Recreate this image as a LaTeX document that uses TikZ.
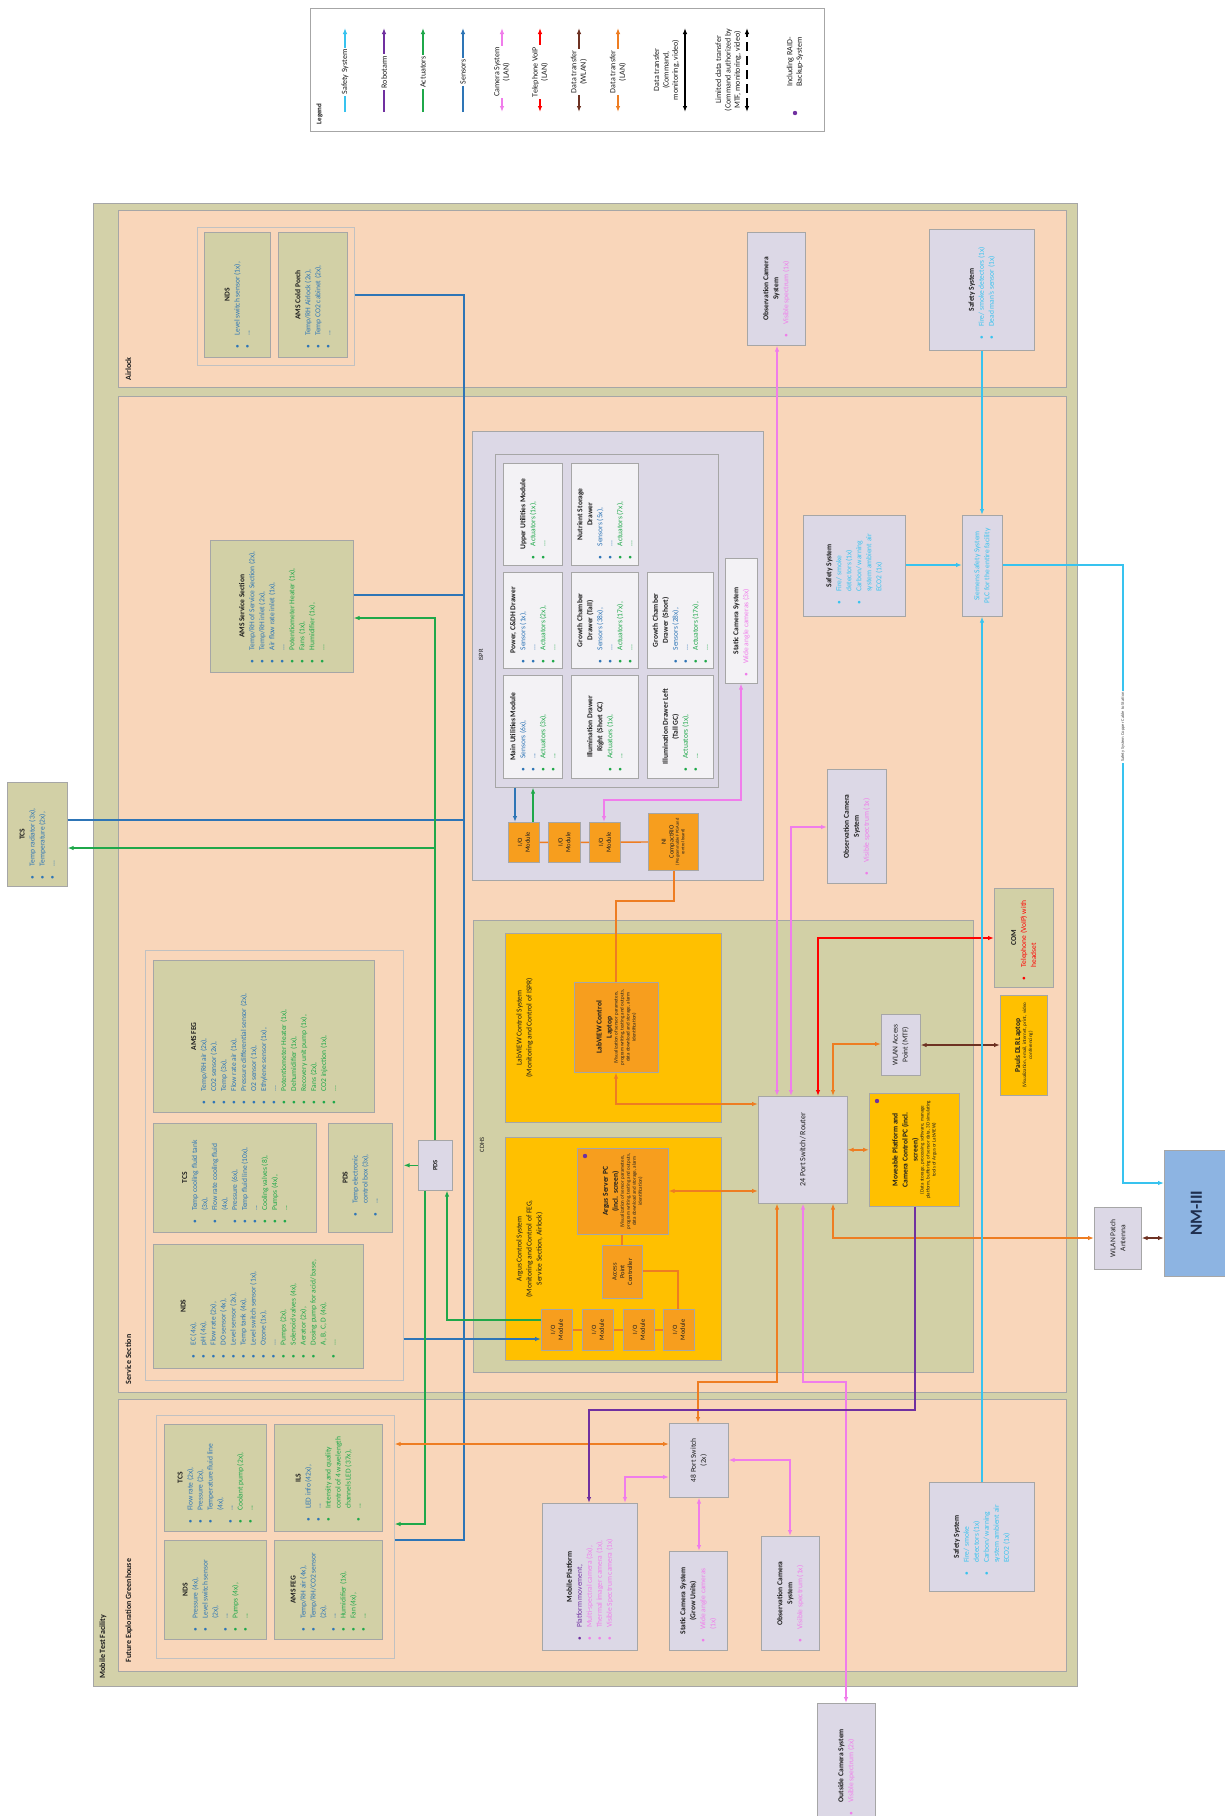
\documentclass[tikz,border=0pt]{standalone}
\usepackage{fontspec}
\setmainfont{Carlito}
\usetikzlibrary{arrows.meta}
\definecolor{cfac}{HTML}{D3D1A9}
\definecolor{cpch}{HTML}{F9D6BA}
\definecolor{colv}{HTML}{D2D0A6}
\definecolor{clav}{HTML}{DCD8E6}
\definecolor{cwht}{HTML}{F3F2F5}
\definecolor{cyel}{HTML}{FFC000}
\definecolor{corg}{HTML}{F79E1E}
\definecolor{cgry}{HTML}{A6A6A6}
\definecolor{ctxt}{HTML}{1E1E1E}
\definecolor{sblue}{HTML}{2E75B6}
\definecolor{agrn}{HTML}{1FA84A}
\definecolor{cpink}{HTML}{F07DEB}
\definecolor{ccyan}{HTML}{38C3EF}
\definecolor{crob}{HTML}{7030A0}
\definecolor{cred}{HTML}{FF0000}
\definecolor{cbrn}{HTML}{6E3223}
\definecolor{clan}{HTML}{EE7D22}
\definecolor{cnm}{HTML}{8DB4E2}
\definecolor{cnavy}{HTML}{1F2F4F}
\newcommand{\rbx}[2]{\rotatebox{90}{\parbox{#1pt}{\raggedright #2}}}
\newcommand{\bxt}[1]{{\centering\bfseries #1\par}}
\newcommand{\itb}[2]{{\color{#1}\hangindent=13pt\hangafter=1\noindent\makebox[13pt][l]{\textbullet}#2\par}}
\newcommand{\sml}[1]{{\fontsize{5}{6}\selectfont\centering #1\par}}

\begin{document}
\begin{tikzpicture}[x=1pt,y=-1pt,>={Latex[length=6pt,width=4.5pt]},
  every node/.style={font=\fontsize{7.5}{10}\selectfont,text=ctxt},
  ln/.style={line width=1.4pt},
  sens/.style={ln,draw=sblue}, act/.style={ln,draw=agrn}, cam/.style={ln,draw=cpink},
  lan/.style={ln,draw=clan}, tel/.style={ln,draw=cred}, wlan/.style={ln,draw=cbrn},
  rob/.style={ln,draw=crob}, saf/.style={ln,draw=ccyan},
  box/.style={draw=cgry,line width=0.6pt,inner sep=0pt,anchor=north west},
  olv/.style={box,fill=colv}, lav/.style={box,fill=clav}, wht/.style={box,fill=cwht},
  ylw/.style={box,fill=cyel}, org/.style={box,fill=corg}, sec/.style={box,fill=cpch},
  grp/.style={box,draw=cgry!70,fill=cpch},
  small/.style={font=\fontsize{6.5}{7.8}\selectfont},
  lbl/.style={rotate=90,anchor=north west,font=\bfseries\fontsize{8}{9.6}\selectfont},
  lgl/.style={rotate=90,fill=white,inner sep=1.5pt,align=center,font=\fontsize{8}{9.4}\selectfont}]
\useasboundingbox (0,0) rectangle (1225,1816);

\node[box,fill=white,minimum width=514,minimum height=123] (legend) at (310,8) {};
\node[lbl,font=\bfseries\fontsize{7}{8}\selectfont] (leg-t) at (313,128) {Legend};
\draw[saf,->] (345,112) -- (345,28); \node[lgl] (leg-saf) at (345,72) {Safety System};
\draw[rob,->] (384,112) -- (384,28); \node[lgl] (leg-rob) at (384,72) {Robotarm};
\draw[act,->] (423,112) -- (423,28); \node[lgl] (leg-act) at (423,72) {Actuators};
\draw[sens,->] (463,112) -- (463,28); \node[lgl] (leg-sens) at (463,72) {Sensors};
\draw[cam,<->] (502,112) -- (502,28); \node[lgl] (leg-cam) at (502,72) {Camera System\\(LAN)};
\draw[tel,<->] (540,112) -- (540,28); \node[lgl] (leg-tel) at (540,72) {Telephone VoIP\\(LAN)};
\draw[wlan,<->] (579,112) -- (579,28); \node[lgl] (leg-wlan) at (579,72) {Data transfer\\(WLAN)};
\draw[lan,<->] (618,112) -- (618,28); \node[lgl] (leg-lan) at (618,72) {Data transfer\\(LAN)};
\draw[ln,<->] (685,112) -- (685,28);
\node[lgl,fill=none,anchor=south] (leg-dt) at (681,70) {Data transfer\\(Command,\\monitoring, video)};
\draw[ln,<->,dash pattern=on 9pt off 5pt] (747,112) -- (747,28);
\node[lgl,fill=none,anchor=south] (leg-ldt) at (743,70) {Limited data transfer\\(Command authorized by\\MTF, monitoring, video)};
\fill[crob] (795,113) circle (2.2);
\node[lgl,fill=none] (leg-raid) at (795,62) {Including RAID-\\Backup-System};

\node[box,fill=cfac,minimum width=984,minimum height=1483] (mtf) at (93,203) {};
\node[sec,minimum width=948,minimum height=177] (airlock) at (118,210) {};
\node[sec,minimum width=948,minimum height=996] (svc) at (118,396) {};
\node[sec,minimum width=948,minimum height=272] (feg) at (118,1399) {};
\node[lbl] (mtf-t) at (96,1682) {Mobile Test Facility};
\node[lbl] (airlock-t) at (122,384) {Airlock};
\node[lbl] (svc-t) at (122,1388) {Service Section};
\node[lbl] (feg-t) at (122,1666) {Future Exploration Greenhouse};

\node[grp,minimum width=157,minimum height=138] (algrp) at (197,227) {};
\node[olv,minimum width=66,minimum height=125] (nds-al) at (204,232) {\rbx{108}{\bxt{NDS}\itb{sblue}{Level switch sensor (1x),}\itb{sblue}{...}}};
\node[olv,minimum width=69,minimum height=125] (cp-al) at (278,232) {\rbx{108}{\bxt{AMS Cold Porch}\itb{sblue}{Temp/RH Airlock (2x),}\itb{sblue}{Temp CO2 cabinet (2x),}\itb{sblue}{...}}};
\node[lav,minimum width=58,minimum height=113] (obs-al) at (747,232) {\rbx{98}{\bxt{Observation Camera\\System}\itb{cpink}{Visible spectrum (1x)}}};
\node[lav,minimum width=105,minimum height=121] (saf-al) at (929,229) {\rbx{100}{\bxt{Safety System}\itb{ccyan}{Fire/ smoke detectors (1x)}\itb{ccyan}{Dead man's sensor (1x)}}};

\node[olv,minimum width=143,minimum height=132] (ams-ss) at (210,540) {\rbx{114}{\bxt{AMS Service Section}\itb{sblue}{Temp/RH of Service Section (2x),}\itb{sblue}{Temp/RH inlet (2x),}\itb{sblue}{Air flow rate inlet (1x),}\itb{sblue}{...}\itb{agrn}{Potentiometer Heater (1x),}\itb{agrn}{Fans (1x),}\itb{agrn}{Humidifier (1x),}\itb{agrn}{...}}};
\node[olv,minimum width=60,minimum height=104] (tcs-out) at (7,782) {\rbx{90}{\bxt{TCS}\itb{sblue}{Temp radiator (3x),}\itb{sblue}{Temperature (2x),}\itb{sblue}{...}}};

\node[lav,minimum width=291,minimum height=449] (ispr) at (472,431) {};
\node[small,rotate=90] (ispr-t) at (481,655) {ISPR};
\node[lav,minimum width=223,minimum height=333] (rack) at (495,454) {};
\node[wht,minimum width=59,minimum height=102] (uum) at (503,463) {\rbx{90}{\bxt{Upper Utilities Module}\itb{agrn}{Actuators (1x),}\itb{agrn}{...}}};
\node[wht,minimum width=59,minimum height=96] (pcd) at (503,572) {\rbx{86}{\bxt{Power, C\&DH Drawer}\itb{sblue}{Sensors (1x),}\itb{sblue}{...}\itb{agrn}{Actuators (2x),}\itb{agrn}{...}}};
\node[wht,minimum width=59,minimum height=103] (mum) at (503,675) {\rbx{90}{\bxt{Main Utilities Module}\itb{sblue}{Sensors (6x),}\itb{sblue}{...}\itb{agrn}{Actuators (3x),}\itb{agrn}{...}}};
\node[wht,minimum width=67,minimum height=102] (nsd) at (571,463) {\rbx{90}{\bxt{Nutrient Storage\\Drawer}\itb{sblue}{Sensors (5x),}\itb{sblue}{...}\itb{agrn}{Actuators (7x),}\itb{agrn}{...}}};
\node[wht,minimum width=67,minimum height=96] (gct) at (571,572) {\rbx{86}{\bxt{Growth Chamber\\Drawer (Tall)}\itb{sblue}{Sensors (38x),}\itb{sblue}{...}\itb{agrn}{Actuators (17x),}\itb{agrn}{...}}};
\node[wht,minimum width=67,minimum height=103] (idr) at (571,675) {\rbx{90}{\bxt{Illumination Drawer\\Right (Short GC)}\itb{agrn}{Actuators (1x),}\itb{agrn}{...}}};
\node[wht,minimum width=66,minimum height=96] (gcs) at (647,572) {\rbx{86}{\bxt{Growth Chamber\\Drawer (Short)}\itb{sblue}{Sensors (28x),}\itb{sblue}{...}\itb{agrn}{Actuators (17x),}\itb{agrn}{...}}};
\node[wht,minimum width=66,minimum height=103] (idl) at (647,675) {\rbx{90}{\bxt{Illumination Drawer Left\\(Tall GC)}\itb{agrn}{Actuators (1x),}\itb{agrn}{...}}};
\node[wht,minimum width=32,minimum height=125] (scam) at (725,558) {\rbx{112}{\bxt{Static Camera System}\itb{cpink}{Wide angle cameras (3x)}}};
\node[org,small,minimum width=31,minimum height=40] (io1) at (508,822) {\rbx{36}{\centering I/O\\Module}};
\node[org,small,minimum width=32,minimum height=40] (io2) at (548,822) {\rbx{36}{\centering I/O\\Module}};
\node[org,small,minimum width=31,minimum height=40] (io3) at (589,822) {\rbx{36}{\centering I/O\\Module}};
\node[org,small,minimum width=50,minimum height=57] (crio) at (648,813) {\rbx{52}{\centering NI\\CompactRIO\par{\fontsize{4.5}{5.4}\selectfont (Programmable FPGA and control board)\par}}};

\node[lav,minimum width=59,minimum height=114] (obs-ss) at (827,769) {\rbx{98}{\bxt{Observation Camera\\System}\itb{cpink}{Visible spectrum (1x)}}};
\node[lav,minimum width=102,minimum height=101] (saf-ss) at (803,515) {\rbx{78}{\bxt{Safety System}\itb{ccyan}{Fire/ smoke detectors (1x)}\itb{ccyan}{Carbon/ warning system ambient air ECO2 (1x)}}};
\node[lav,minimum width=40,minimum height=101] (plc) at (962,515) {\rbx{92}{\centering\color{ccyan}Siemens Safety System\\PLC for the entire facility}};

\node[box,fill=colv,minimum width=500,minimum height=452] (cdhs) at (473,920) {};
\node[small,rotate=90] (cdhs-t) at (482,1145) {CDHS};
\node[ylw,minimum width=216,minimum height=189] (lvsys) at (505,933) {};
\node[rotate=90,anchor=north,align=center] (lvsys-t) at ([xshift=8]lvsys.west) {LabVIEW Control System\\(Monitoring and Control of ISPR)};
\node[org,minimum width=84,minimum height=90] (lvlap) at (574,982) {\rbx{80}{\bxt{LabVIEW Control\\Laptop}\sml{(Visualization of sensor parameters, program writing, testing and outputs, data download and storage, alarm identification)}}};
\node[ylw,minimum width=216,minimum height=223] (arsys) at (505,1137) {};
\node[rotate=90,anchor=north,align=center] (arsys-t) at ([xshift=8]arsys.west) {Argus Control System\\(Monitoring and Control of FEG,\\Service Section, Airlock)};
\node[org,minimum width=91,minimum height=86] (arpc) at (577,1148) {\rbx{76}{\bxt{Argus Server PC\\(incl. screen)}\sml{(Visualization of sensor parameters, program writing, testing and outputs, data download and storage, alarm identification)}}};
\fill[crob] (585,1156) circle (2.2);
\node[org,small,minimum width=40,minimum height=53] (apc) at (602,1245) {\rbx{46}{\centering Access\\Point\\Controller}};
\node[org,small,minimum width=31,minimum height=41] (ioa) at (541,1309) {\rbx{36}{\centering I/O\\Module}};
\node[org,small,minimum width=31,minimum height=41] (iob) at (582,1309) {\rbx{36}{\centering I/O\\Module}};
\node[org,small,minimum width=31,minimum height=41] (ioc) at (623,1309) {\rbx{36}{\centering I/O\\Module}};
\node[org,small,minimum width=31,minimum height=41] (iod) at (663,1309) {\rbx{36}{\centering I/O\\Module}};
\node[lav,minimum width=89,minimum height=107] (sw24) at (758,1096) {\rbx{95}{\centering\fontsize{8}{9.6}\selectfont 24 Port Switch/ Router}};
\node[lav,minimum width=39,minimum height=61] (wap) at (881,1014) {\rbx{55}{\centering WLAN Access\\Point (MTF)}};
\node[ylw,minimum width=90,minimum height=113] (mppc) at (869,1093) {\rbx{100}{\bxt{Moveable Platform and\\Camera Control PC (incl.\\screen)}\sml{(Data storage, processing software, manage platform, buffering of sensor data, 3D simulating tools of Argus or LabVIEW)}}};
\fill[crob] (877,1101) circle (2.2);
\node[olv,minimum width=59,minimum height=99] (com) at (994,888) {\rbx{85}{\bxt{COM}\itb{cred}{Telephone (VoIP) with headset}}};
\node[ylw,minimum width=47,minimum height=100] (dlr) at (1000,995) {\rbx{92}{\bxt{Pauls DLR Laptop}\sml{(Visualization, email, internet, print, video conferencing)}}};

\node[grp,minimum width=258,minimum height=430] (svcgrp) at (145,950) {};
\node[olv,minimum width=221,minimum height=152] (amsfeg-ss) at (153,960) {\rbx{136}{\bxt{AMS FEG}\itb{sblue}{Temp/RH air (2x),}\itb{sblue}{CO2 sensor (2x),}\itb{sblue}{Temp (3x),}\itb{sblue}{Flow rate air (1x),}\itb{sblue}{Pressure differential sensor (2x),}\itb{sblue}{O2 sensor (1x),}\itb{sblue}{Ethylene sensor (1x),}\itb{sblue}{...}\itb{agrn}{Potentiometer Heater (1x),}\itb{agrn}{Dehumidifier (1x),}\itb{agrn}{Recovery unit pump (1x),}\itb{agrn}{Fans (2x),}\itb{agrn}{CO2 injection (1x),}\itb{agrn}{...}}};
\node[olv,minimum width=163,minimum height=109] (tcs-ss) at (153,1123) {\rbx{92}{\bxt{TCS}\itb{sblue}{Temp cooling fluid tank (3x),}\itb{sblue}{Flow rate cooling fluid (4x),}\itb{sblue}{Pressure (6x),}\itb{sblue}{Temp fluid line (10x),}\itb{sblue}{...}\itb{agrn}{Cooling valves (8),}\itb{agrn}{Pumps (4x),}\itb{agrn}{...}}};
\node[olv,minimum width=64,minimum height=109] (pds-ss) at (328,1123) {\rbx{78}{\bxt{PDS}\itb{sblue}{Temp electronic control box (3x),}\itb{sblue}{...}}};
\node[olv,minimum width=210,minimum height=124] (nds-ss) at (153,1244) {\rbx{104}{\bxt{NDS}\itb{sblue}{EC (4x),}\itb{sblue}{pH (4x),}\itb{sblue}{Flow rate (2x),}\itb{sblue}{DO sensor (4x),}\itb{sblue}{Level sensor (2x),}\itb{sblue}{Temp tank (4x),}\itb{sblue}{Level switch sensor (1x),}\itb{sblue}{Ozone (1x),}\itb{sblue}{...}\itb{agrn}{Pumps (2x),}\itb{agrn}{Solenoid valves (4x),}\itb{agrn}{Aerator (2x),}\itb{agrn}{Dosing pump for acid/ base, A, B, C, D (4x),}\itb{agrn}{...}}};
\node[lav,small,minimum width=34,minimum height=50] (pds) at (418,1140) {\rbx{40}{\centering\bfseries PDS}};

\node[lav,minimum width=47,minimum height=62] (wpa) at (1094,1207) {\rbx{55}{\centering WLAN Patch\\Antenna}};
\node[box,fill=cnm,minimum width=64,minimum height=126] (nm) at (1164,1150) {\rbx{110}{\centering\fontsize{17}{20}\selectfont\bfseries\color{cnavy}NM-III}};
\node[lav,minimum width=58,minimum height=125] (ocam) at (817,1703) {\rbx{100}{\bxt{Outside Camera System}\itb{cpink}{Visible spectrum (2x)}}};

\node[grp,minimum width=238,minimum height=243] (feggrp) at (156,1415) {};
\node[olv,minimum width=102,minimum height=107] (tcs-feg) at (164,1424) {\rbx{92}{\bxt{TCS}\itb{sblue}{Flow rate (2x),}\itb{sblue}{Pressure (2x),}\itb{sblue}{Temperature fluid line (4x),}\itb{sblue}{...}\itb{agrn}{Coolant pump (2x),}\itb{agrn}{...}}};
\node[olv,minimum width=108,minimum height=107] (ils) at (274,1424) {\rbx{88}{\bxt{ILS}\itb{sblue}{LED info (42x),}\itb{sblue}{...}\itb{agrn}{Intensity and quality control of 4 wavelength channels LED (37x),}\itb{agrn}{...}}};
\node[olv,minimum width=102,minimum height=99] (nds-feg) at (164,1540) {\rbx{84}{\bxt{NDS}\itb{sblue}{Pressure (4x),}\itb{sblue}{Level switch sensor (2x),}\itb{sblue}{...}\itb{agrn}{Pumps (4x),}\itb{agrn}{...}}};
\node[olv,minimum width=108,minimum height=99] (ams-feg) at (274,1540) {\rbx{84}{\bxt{AMS FEG}\itb{sblue}{Temp/RH air (4x),}\itb{sblue}{Temp/RH/CO2 sensor (2x),}\itb{sblue}{...}\itb{agrn}{Humidifier (1x),}\itb{agrn}{Fan (4x),}\itb{agrn}{...}}};
\node[lav,minimum width=95,minimum height=147] (mp) at (542,1503) {\rbx{128}{\bxt{Mobile Platform}\itb{crob}{Platform movement,}\itb{cpink}{Multi-spectral camera (3x),}\itb{cpink}{Thermal imager camera (1x),}\itb{cpink}{Visible Spectrum camera (1x)}}};
\node[lav,minimum width=59,minimum height=74] (sw48) at (669,1423) {\rbx{64}{\centering 48 Port Switch\\(2x)}};
\node[lav,minimum width=58,minimum height=99] (scam-feg) at (669,1551) {\rbx{84}{\bxt{Static Camera System\\(Grow Units)}\itb{cpink}{Wide angle cameras (1x)}}};
\node[lav,minimum width=58,minimum height=114] (obs-feg) at (761,1536) {\rbx{98}{\bxt{Observation Camera\\System}\itb{cpink}{Visible spectrum (1x)}}};
\node[lav,minimum width=105,minimum height=109] (saf-feg) at (929,1482) {\rbx{78}{\bxt{Safety System}\itb{ccyan}{Fire/ smoke detectors (1x)}\itb{ccyan}{Carbon/ warning system ambient air ECO2 (1x)}}};

\draw[sens] (algrp.east |- 0,295) -| (464,1540) -- (feggrp.east |- 0,1540);
\draw[sens] (ams-ss.east |- 0,595) -- (464,595);
\draw[sens] (tcs-out.east |- 0,820) -- (464,820);
\draw[sens,->] (svcgrp.east |- 0,1339) -- (ioa.west |- 0,1339);
\draw[sens,->] (rack.south -| 515,0) -- (io1.north -| 515,0);

\draw[act,->] (ioa.west |- 0,1320) -| (pds.south -| 447,0);
\draw[act,->] (pds.north -| 435,0) |- (ams-ss.east |- 0,618);
\draw[act,->] (435,848) -- (tcs-out.east |- 0,848);
\draw[act,->] (pds.west) -- (svcgrp.east |- pds.west);
\draw[act,->] (pds.south -| 425,0) |- (feggrp.east |- 0,1524);
\draw[act,->] (io1.north -| 533,0) -- (rack.south -| 533,0);

\draw[cam,<->] (obs-al.south -| 777,0) -- (sw24.north -| 777,0);
\draw[cam,<->] (obs-ss.west |- 0,827) -| (sw24.north -| 791,0);
\draw[cam,<->] (scam.south -| 741,0) |- (604,800) -- (io3.north -| 604,0);
\draw[cam,<->] (sw24.south -| 803,0) |- (846,1382) -- (ocam.north -| 846,0);
\draw[cam,<->] (sw48.south -| 699,0) -- (scam-feg.north -| 699,0);
\draw[cam,<->] (sw48.east |- 0,1460) -| (obs-feg.north -| 790,0);
\draw[cam,<->] (mp.north -| 625,0) |- (sw48.west |- 0,1477);

\draw[lan] (io1) -- (io2) -- (io3) -- (crio);
\draw[lan] (crio.south -| 674,0) |- (616,901) -- (lvlap.north -| 616,0);
\draw[lan,<->] (lvlap.south -| 616,0) |- (sw24.west |- 0,1104);
\draw[lan,<->] (arpc.east |- 0,1191) -- (sw24.west |- 0,1191);
\draw[lan] (arpc.south -| 622,0) -- (apc.north -| 622,0);
\draw[lan] (apc.east |- 0,1271) -| (iod.north -| 678,0);
\draw[lan] (ioa) -- (iob) -- (ioc) -- (iod);
\draw[lan,<->] (sw24.north -| 833,0) |- (wap.west |- 0,1044);
\draw[lan,<->] (sw24.east) -- (mppc.west);
\draw[lan,<->] (sw24.south -| 833,0) |- (wpa.west |- 0,1238);
\draw[lan,<->] (sw24.south -| 777,0) |- (698,1382) -- (sw48.north -| 698,0);
\draw[lan,<->] (sw48.west |- 0,1444) -- (feggrp.east |- 0,1444);

\draw[tel,<->] (sw24.north -| 818,0) |- (com.west |- 0,938);
\draw[wlan,<->] (wap.east |- 0,1045) -- (dlr.west |- 0,1045);
\draw[wlan,<->] (wpa.east |- 0,1238) -- (nm.west |- 0,1238);
\draw[rob,->] (mppc.south -| 915,0) |- (589,1410) -- (mp.north -| 589,0);

\draw[saf,->] (saf-al.south -| 982,0) -- (plc.north -| 982,0);
\draw[saf,->] (saf-ss.east |- 0,565) -- (plc.west |- 0,565);
\draw[saf,->] (saf-feg.north -| 982,0) -- (plc.south -| 982,0);
\draw[saf,->] (plc.east |- 0,565) -| (1123,1183) -- (nm.west |- 0,1183);
\node[rotate=90,fill=white,inner sep=1pt,font=\fontsize{4.5}{5}\selectfont,text=ctxt!80] (cable) at (1123,727) {Safety System Copper Cable to Station};
\end{tikzpicture}
\end{document}
